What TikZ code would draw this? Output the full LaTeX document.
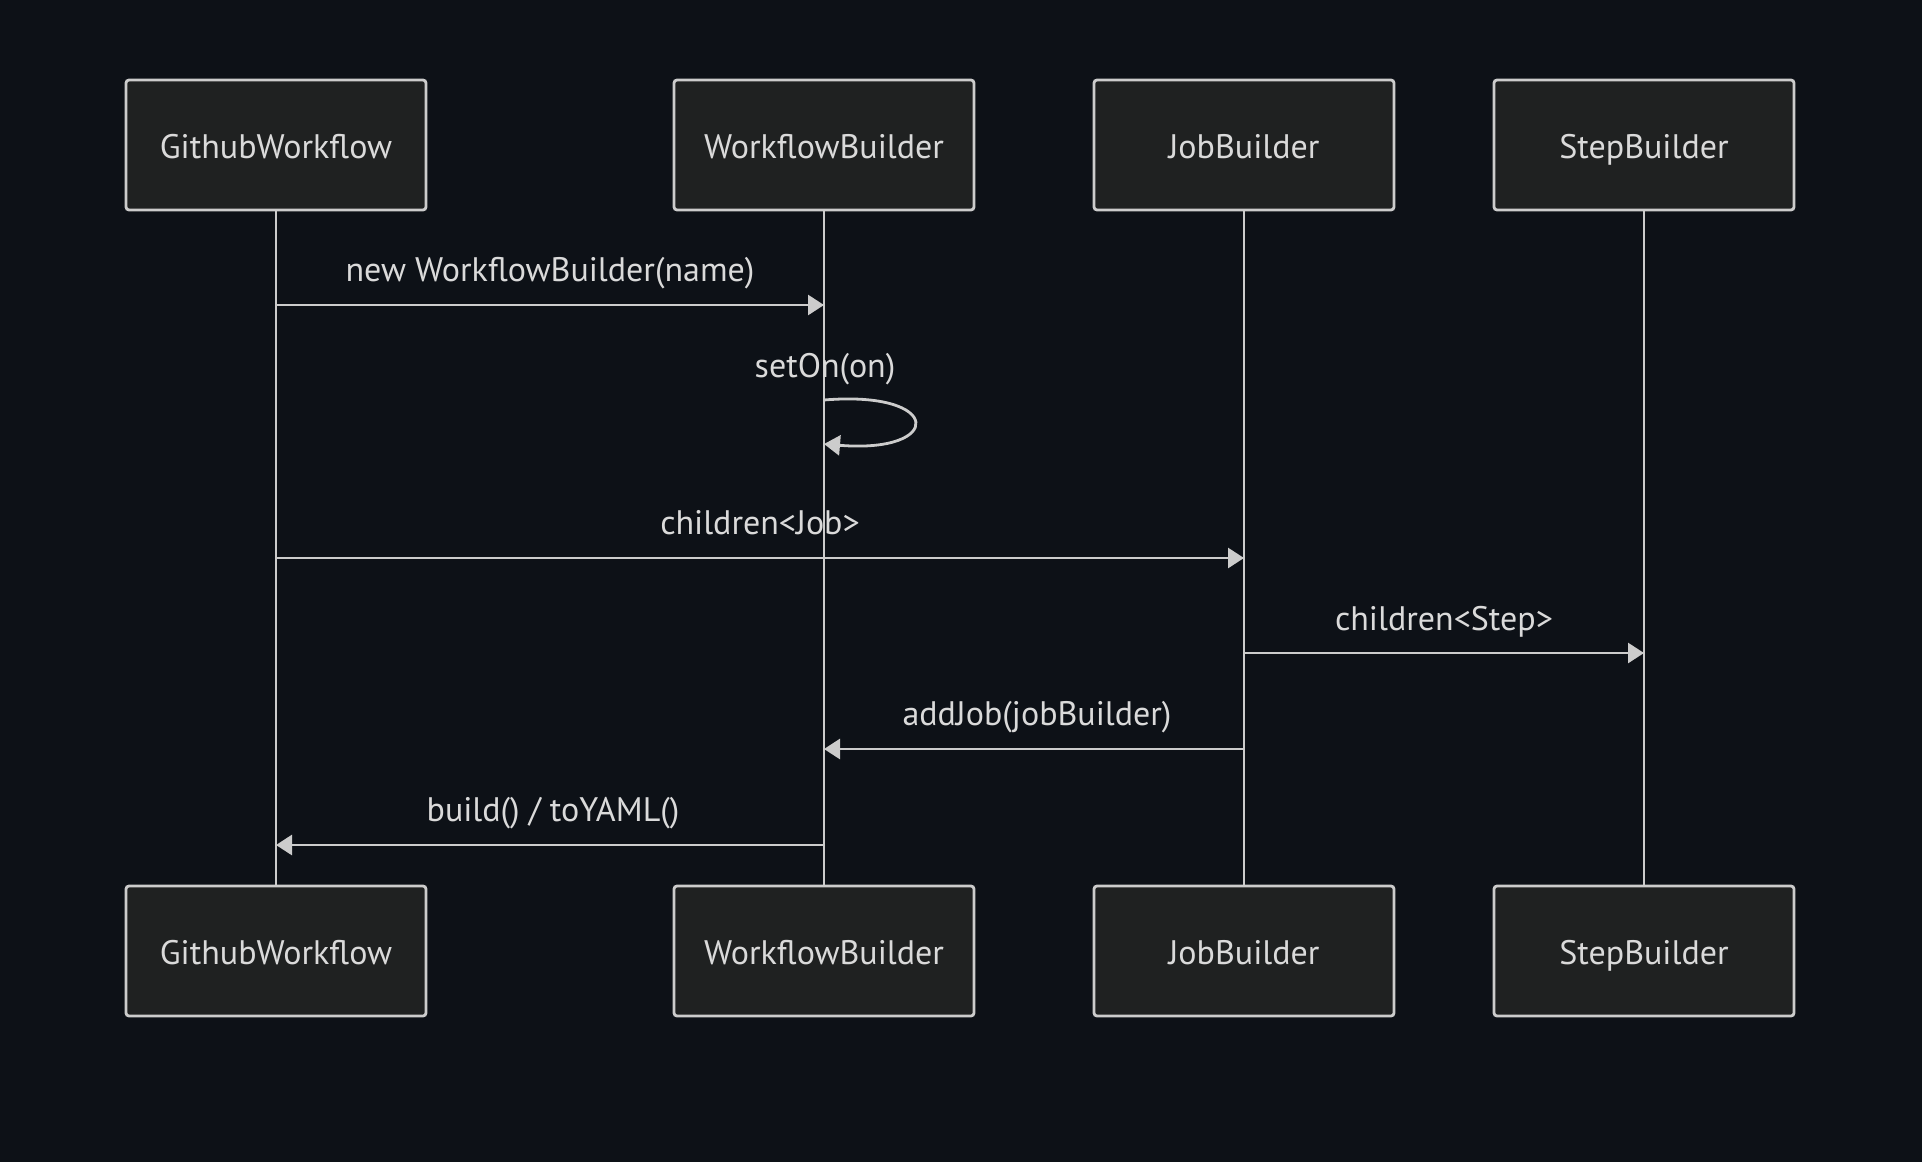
\documentclass[tikz,border=0pt]{standalone}
\usepackage{fontspec}
\setmainfont{PT Sans}
\usetikzlibrary{arrows.meta}
\definecolor{fondo}{HTML}{0D1117}
\definecolor{caja}{HTML}{1F2121}
\definecolor{linea}{HTML}{CCCCCC}
\definecolor{texto}{HTML}{DADADA}

\tikzset{
  actor/.style={draw=linea, fill=caja, line width=1.4pt, rounded corners=1.5pt,
    minimum width=150pt, minimum height=65pt, inner sep=0pt,
    text height=13.8pt, text depth=0pt,
    text=texto, font=\fontsize{17}{20}\selectfont},
  vida/.style={draw=linea, line width=1.4pt},
  msg/.style={draw=linea, line width=1.4pt, -{Triangle[length=8pt,width=10pt]}},
  etiq/.style={text=texto, inner sep=0pt, text height=13.8pt, text depth=0pt,
    font=\fontsize{17}{20}\selectfont},
}

\begin{document}
\begin{tikzpicture}[x=0.5pt, y=-0.5pt]
      % fondo
      \fill[fondo] (0,0) rectangle (1922,1162);
      \useasboundingbox (0,0) rectangle (1922,1162);

      % actores y lineas de vida
      \foreach \n/\x/\t in {gw/276/GithubWorkflow, wb/824/WorkflowBuilder,
                            jb/1244/JobBuilder, sb/1644/StepBuilder}{
        \node[actor] (\n Top) at (\x,145) {\t};
        \node[actor] (\n Bot) at (\x,951) {\t};
        \draw[vida] (\n Top) -- (\n Bot);
      }

      % puntos de los mensajes
      \coordinate (gw1) at (gwTop |- 0,305);
      \coordinate (wb1) at (wbTop |- 0,305);
      \coordinate (wbS1) at (wbTop |- 0,400);
      \coordinate (wbS2) at (wbTop |- 0,444);
      \coordinate (gw2) at (gwTop |- 0,558);
      \coordinate (jb2) at (jbTop |- 0,558);
      \coordinate (jb3) at (jbTop |- 0,653);
      \coordinate (sb3) at (sbTop |- 0,653);
      \coordinate (jb4) at (jbTop |- 0,749);
      \coordinate (wb4) at (wbTop |- 0,749);
      \coordinate (wb5) at (wbTop |- 0,845);
      \coordinate (gw5) at (gwTop |- 0,845);

      % mensajes
      \draw[msg] (gw1) -- (wb1);
      \node[etiq] (lNew) at (550,268) {new WorkflowBuilder(name)};
      \draw[msg] (wbS1) .. controls (944,390) and (944,454) .. (wbS2);
      \node[etiq] (lSet) at (825,364) {setOn(on)};
      \draw[msg] (gw2) -- (jb2);
      \node[etiq] (lJob) at (760,521) {children<Job>};
      \draw[msg] (jb3) -- (sb3);
      \node[etiq] (lStep) at (1444,617) {children<Step>};
      \draw[msg] (jb4) -- (wb4);
      \node[etiq] (lAdd) at (1037,712) {addJob(jobBuilder)};
      \draw[msg] (wb5) -- (gw5);
      \node[etiq] (lBuild) at (553,808) {build() / toYAML()};
\end{tikzpicture}
\end{document}
